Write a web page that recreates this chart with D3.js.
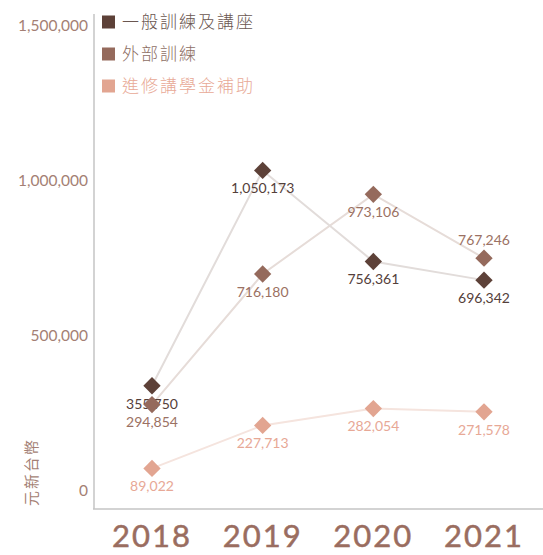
<!DOCTYPE html>
<html>
<head>
<meta charset="utf-8">
<script src="https://cdn.jsdelivr.net/npm/d3@7/dist/d3.min.js"></script>
<style>
  html, body { margin: 0; padding: 0; background: #fff; }
  svg { display: block; }
</style>
</head>
<body>
<svg id="chart" width="543" height="555"></svg>
<script>
// Annual training spending (NTD) by programme
const years = ["2018", "2019", "2020", "2021"];
const seriesNames = ["一般訓練及講座", "外部訓練", "進修講學金補助"];
const generalTraining = [355750, 1050173, 756361, 696342];
const externalTraining = [294854, 716180, 973106, 767246];
const scholarshipGrants = [89022, 227713, 282054, 271578];
const yTicks = [0, 500000, 1000000, 1500000];
const yTitle = "元新台幣";

const markColors = ["#5d4138", "#956a5c", "#e2a591"];
const lineColors = ["#e2dcda", "#e6dcd8", "#f5e4de"];
const labelColors = ["#54403a", "#9b7163", "#e7a896"];

const series = [generalTraining, externalTraining, scholarshipGrants].map((values, i) => ({
  name: seriesNames[i],
  values: values.map((v, j) => ({ year: years[j], value: v })),
  idx: i
}));

const svg = d3.select("#chart");
const fontFamily = "Lato, 'Noto Sans', 'Noto Sans CJK TC', sans-serif";

const x = d3.scalePoint().domain(years).range([152, 484]);
const y = d3.scaleLinear().domain([0, 1500000]).range([496, 31]);

// Frame: left and bottom rules
svg.append("line")
  .attr("x1", 94).attr("x2", 94).attr("y1", 14).attr("y2", 509)
  .attr("stroke", "#c4c4c4").attr("stroke-width", 1.5);
svg.append("line")
  .attr("x1", 93).attr("x2", 543).attr("y1", 509).attr("y2", 509)
  .attr("stroke", "#c4c4c4").attr("stroke-width", 1.5);

// Y tick labels
const fmt = d3.format(",");
svg.append("g").selectAll("text")
  .data(yTicks)
  .join("text")
  .attr("x", 88)
  .attr("y", d => y(d) - 5)
  .attr("dy", "0.35em")
  .attr("text-anchor", "end")
  .attr("font-family", fontFamily)
  .attr("font-size", 15.5)
  .attr("fill", "#a47f74")
  .text(d => fmt(d));

// Y axis title
svg.append("text")
  .attr("transform", "translate(32,472) rotate(-90)")
  .attr("text-anchor", "middle")
  .attr("dy", "0.35em")
  .attr("font-family", fontFamily)
  .attr("font-size", 15)
  .attr("letter-spacing", 2)
  .attr("fill", "#a47f74")
  .text(yTitle);

// Year labels
svg.append("g").selectAll("text")
  .data(years)
  .join("text")
  .attr("x", d => x(d))
  .attr("y", 547)
  .attr("text-anchor", "middle")
  .attr("font-family", "Lato, 'Open Sans', sans-serif")
  .attr("font-weight", 400)
  .attr("font-size", 31)
  .attr("letter-spacing", 2)
  .attr("fill", "#9a6d60")
  .attr("stroke", "#9a6d60")
  .attr("stroke-width", 0.5)
  .text(d => d);

// Connecting lines
const line = d3.line().x(d => x(d.year)).y(d => y(d.value));
svg.append("g").selectAll("path")
  .data(series.slice().reverse())
  .join("path")
  .attr("d", d => line(d.values))
  .attr("fill", "none")
  .attr("stroke", d => lineColors[d.idx])
  .attr("stroke-width", 2);

// Diamond markers and value labels; the 2021 external-training label sits
// above its marker so it clears the neighbouring marker below.
const labelAbove = (s, d) => s.idx === 1 && d.year === "2021";
const diamond = d3.symbol().type(d3.symbolSquare).size(150);
series.forEach(s => {
  const g = svg.append("g");
  g.selectAll("path")
    .data(s.values)
    .join("path")
    .attr("d", diamond)
    .attr("transform", d => `translate(${x(d.year)},${y(d.value)}) rotate(45)`)
    .attr("fill", markColors[s.idx]);
  g.selectAll("text")
    .data(s.values)
    .join("text")
    .attr("x", d => x(d.year))
    .attr("y", d => y(d.value) + (labelAbove(s, d) ? -18 : 18))
    .attr("dy", "0.35em")
    .attr("text-anchor", "middle")
    .attr("font-family", fontFamily)
    .attr("font-size", 14)
    .attr("fill", labelColors[s.idx])
    .text(d => fmt(d.value));
});

// Legend
const legend = svg.append("g").selectAll("g")
  .data(series)
  .join("g")
  .attr("transform", (d, i) => `translate(102,${22 + i * 32})`);
legend.append("rect")
  .attr("x", 0).attr("y", -6.5)
  .attr("width", 13).attr("height", 13)
  .attr("fill", d => markColors[d.idx]);
legend.append("text")
  .attr("x", 20)
  .attr("dy", "0.35em")
  .attr("font-family", "'Noto Sans CJK TC', sans-serif")
  .attr("font-weight", 300)
  .attr("font-size", 17)
  .attr("letter-spacing", 2)
  .attr("fill", d => [ "#6a5650", "#8e6e64", "#e8a996" ][d.idx])
  .text(d => d.name);
</script>
</body>
</html>
